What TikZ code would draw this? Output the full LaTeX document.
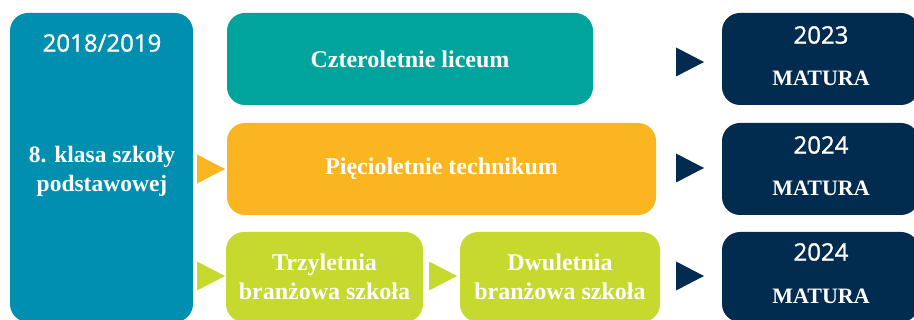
\documentclass[tikz,border=0pt]{standalone}
\usepackage{fontspec}
\setmainfont{Liberation Serif}
\newfontfamily\numfont[FakeBold=1.2]{Open Sans}

\definecolor{klasablue}{HTML}{018FB0}
\definecolor{liceumteal}{HTML}{00A49C}
\definecolor{technorange}{HTML}{FBB520}
\definecolor{branzlime}{HTML}{C5D92F}
\definecolor{maturanavy}{HTML}{012B4F}

% filled pointer, tip at (#2,#3)
\newcommand{\pointer}[3]{\fill[#1] (#2,#3) -- ++(-28,-14.5) -- ++(0,29) -- cycle;}

\tikzset{
    box/.style={rectangle, rounded corners=18pt, inner sep=0pt, text=white, align=center,
        font=\bfseries\fontsize{24}{28.5}\selectfont},
    yeartxt/.style={text=white, inner sep=0pt, font=\numfont\fontsize{24}{28}\selectfont},
    maturatxt/.style={text=white, inner sep=0pt, font=\bfseries\fontsize{22}{26}\selectfont}
}

\begin{document}
\begin{tikzpicture}[x=1pt,y=-1pt]
    \useasboundingbox (0,0) rectangle (914,320);
    \clip (0,0) rectangle (914,320);

    % start
    \node[box, fill=klasablue, minimum width=183pt, minimum height=309pt] (klasa) at (101.5,167.5) {};
    \node[yeartxt] (rok) at (102,43) {2018/2019};
    \node[box, font=\bfseries\fontsize{23.5}{29}\selectfont] (klasatxt) at (102,171) {8. klasa szkoły\\podstawowej};

    % schools
    \node[box, fill=liceumteal, minimum width=366pt, minimum height=92pt] (liceum) at (410,59) {Czteroletnie liceum};
    \node[box, fill=technorange, minimum width=429pt, minimum height=92pt] (technikum) at (441.5,169) {Pięcioletnie technikum};
    \node[box, fill=branzlime, minimum width=197pt, minimum height=90pt] (branz1) at (324.5,277) {Trzyletnia\\branżowa szkoła};
    \node[box, fill=branzlime, minimum width=200pt, minimum height=90pt] (branz2) at (560,277) {Dwuletnia\\branżowa szkoła};

    % matura
    \node[box, fill=maturanavy, minimum width=197pt, minimum height=92pt] (mat1) at (820.5,59) {};
    \node[box, fill=maturanavy, minimum width=197pt, minimum height=92pt] (mat2) at (820.5,169) {};
    \node[box, fill=maturanavy, minimum width=197pt, minimum height=90pt] (mat3) at (820.5,277) {};
    \node[yeartxt] (rok1) at (821,35) {2023};
    \node[maturatxt] (mat1txt) at (821,78) {MATURA};
    \node[yeartxt] (rok2) at (821,145) {2024};
    \node[maturatxt] (mat2txt) at (821,188) {MATURA};
    \node[yeartxt] (rok3) at (821,252) {2024};
    \node[maturatxt] (mat3txt) at (821,296) {MATURA};

    % pointers
    \pointer{technorange}{225}{169}
    \pointer{branzlime}{225}{276}
    \pointer{branzlime}{457}{276}
    \pointer{maturanavy}{704}{62}
    \pointer{maturanavy}{704}{168}
    \pointer{maturanavy}{704}{276}
\end{tikzpicture}
\end{document}
